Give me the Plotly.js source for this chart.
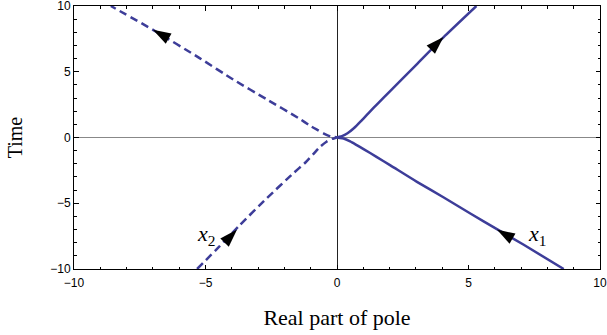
<!DOCTYPE html>
<html><head><meta charset="utf-8">
<script src="https://cdn.plot.ly/plotly-3.0.1.min.js"></script>
<style>html,body{margin:0;padding:0;background:#fff;}#chart{width:607px;height:335px;}</style>
</head><body><div id="chart"></div>
<script>
// pole x1 (solid), listed in time order
const x1Time = [-10, -8.16, -6.97, -5.78, -4.56, -3.37, -2.12, -1.47, -0.88, -0.58, -0.30, -0.08, 0, 0.10, 0.32, 0.72, 1.22, 1.86, 2.58, 3.55, 5.62, 7.72, 10];
const x1Real = [8.62, 7.10, 6.08, 5.07, 4.06, 3.04, 2.03, 1.50, 1.01, 0.75, 0.50, 0.25, 0, 0.19, 0.40, 0.65, 0.90, 1.20, 1.55, 2.03, 3.06, 4.10, 5.30];
// pole x2 (dashed), listed in time order
const x2Time = [-10, -8.3, -6.65, -4.62, -2.72, -1.90, -1.26, -0.72, -0.32, -0.10, 0, 0.08, 0.30, 0.58, 0.88, 1.46, 2.90, 4.40, 6.02, 8.17, 10];
const x2Real = [-5.32, -4.48, -3.69, -2.67, -1.66, -1.20, -0.90, -0.65, -0.40, -0.19, 0, -0.25, -0.50, -0.75, -1.01, -1.45, -2.67, -3.94, -5.21, -6.98, -8.6];
// arrowhead tips (direction of increasing time)
const arrowReal = [6.08, 4.05, -3.80, -7.0];
const arrowTime = [-7.0, 7.65, -7.0, 8.2];
const arrowCurve = [0, 0, 1, 1];
// labels
const labelText = ['<i>x</i><sub>1</sub>', '<i>x</i><sub>2</sub>'];
const labelReal = [7.62, -4.98];
const labelTime = [-7.4, -7.45];
const tickVals = [-10, -5, 0, 5, 10];

const W = 607, H = 335, M = {l: 74, r: 7, t: 6, b: 66};
const pxX = (W - M.l - M.r) / 20, pxY = (H - M.t - M.b) / 20;
const curves = [[x1Real, x1Time], [x2Real, x2Time]];

const angles = arrowReal.map((ax, i) => {
  const [xs, ts] = curves[arrowCurve[i]];
  let best = 1e9, ang = 0;
  for (let k = 0; k < xs.length - 1; k++) {
    const dx = (xs[k+1] - xs[k]) * pxX, dy = (ts[k+1] - ts[k]) * pxY;
    const px = (ax - xs[k]) * pxX, py = (arrowTime[i] - ts[k]) * pxY;
    const L2 = dx*dx + dy*dy;
    let u = L2 ? (px*dx + py*dy) / L2 : 0; u = Math.max(0, Math.min(1, u));
    const ex = px - u*dx, ey = py - u*dy, d = ex*ex + ey*ey;
    if (d < best) { best = d; ang = Math.atan2(dx, dy) * 180 / Math.PI; }
  }
  return ang;
});

const lineColor = '#3d3d99';
const traces = [
  {x: x1Real, y: x1Time, mode: 'lines', line: {color: lineColor, width: 2.5, shape: 'spline', smoothing: 0.6}, hoverinfo: 'skip'},
  {x: x2Real, y: x2Time, mode: 'lines', line: {color: lineColor, width: 2.5, dash: '8px,4.5px', shape: 'spline', smoothing: 0.6}, hoverinfo: 'skip'},
  {x: arrowReal, y: arrowTime, mode: 'markers', marker: {symbol: 'arrow', size: 19, color: '#000', angle: angles, line: {width: 0}}, hoverinfo: 'skip', cliponaxis: false}
];

const axisCommon = {
  range: [-10, 10], tickvals: tickVals, ticks: 'inside', ticklen: 4.5, tickwidth: 1, tickcolor: '#000',
  showline: true, linecolor: '#000', linewidth: 1, mirror: 'allticks', showgrid: false,
  zeroline: true, zerolinewidth: 1, ticklabeloverflow: 'allow',
  minor: {dtick: 1, tick0: 0, ticks: 'inside', ticklen: 2.5, tickwidth: 1, tickcolor: '#000', showgrid: false},
  tickfont: {family: 'Liberation Sans, Arial, sans-serif', size: 12, color: '#000'}
};

const layout = {
  width: W, height: H, margin: M, showlegend: false,
  paper_bgcolor: '#fff', plot_bgcolor: '#fff',
  xaxis: Object.assign({}, axisCommon, {zerolinecolor: '#222', ticklabelstandoff: 3,
    title: {text: 'Real part of pole', font: {family: 'Liberation Serif, Times New Roman, serif', size: 22, color: '#000'}, standoff: 20}}),
  yaxis: Object.assign({}, axisCommon, {zerolinecolor: '#888',
    title: {text: 'Time', font: {family: 'Liberation Serif, Times New Roman, serif', size: 20, color: '#000'}, standoff: 22}}),
  annotations: labelText.map((t, i) => ({
    x: labelReal[i], y: labelTime[i], xref: 'x', yref: 'y', text: t, showarrow: false,
    font: {family: 'Liberation Serif, Times New Roman, serif', size: 22, color: '#000'}
  }))
};

Plotly.newPlot('chart', traces, layout, {staticPlot: true, displayModeBar: false});
</script>
</body></html>
